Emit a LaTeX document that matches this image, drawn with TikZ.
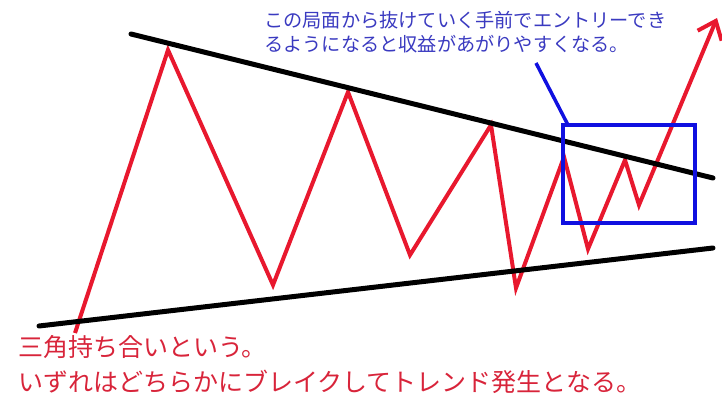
\documentclass[tikz,border=0pt]{standalone}
\usepackage{fontspec}
\newfontfamily\cjk{Noto Sans CJK JP}
\usetikzlibrary{arrows.meta}
\definecolor{pricered}{HTML}{E8182E}
\definecolor{textred}{HTML}{D8243A}
\definecolor{boxblue}{HTML}{1010E0}
\definecolor{textblue}{HTML}{3A3AC0}
\tikzset{
  price/.style={draw=pricered, line width=4pt, line join=miter},
  trendline/.style={draw=black, line width=5pt, line cap=round},
  focusbox/.style={draw=boxblue, line width=4pt},
  leader/.style={draw=boxblue, line width=3.5pt},
  bluetext/.style={anchor=west, inner sep=0pt, text=textblue, font=\cjk\fontsize{19.2pt}{24pt}\selectfont},
  redtext/.style={anchor=west, inner sep=0pt, text=textred, font=\cjk\fontsize{25pt}{35pt}\selectfont},
}
\begin{document}
\begin{tikzpicture}[x=1pt,y=-1pt]
\useasboundingbox (0,0) rectangle (722,398);
% price path
\coordinate (p0) at (75,333);
\coordinate (p1) at (168,50);
\coordinate (p2) at (273,285);
\coordinate (p3) at (348,92);
\coordinate (p4) at (410,255);
\coordinate (p5) at (491,125);
\coordinate (p6) at (516,288);
\coordinate (p7) at (564,157);
\coordinate (p8) at (588,249);
\coordinate (p9) at (625,160);
\coordinate (p10) at (639,205);
\coordinate (p11) at (717,18);
\draw[price, -{Straight Barb[length=16pt,width=26pt,line width=4pt]}]
  (p0) -- (p1) -- (p2) -- (p3) -- (p4) -- (p5) -- (p6) -- (p7) -- (p8) -- (p9) -- (p10) -- (p11);
% trend lines
\coordinate (u0) at (131,34);
\coordinate (u1) at (713,178);
\coordinate (l0) at (39,326);
\coordinate (l1) at (713,248);
\draw[trendline] (u0) -- (u1);
\draw[trendline] (l0) -- (l1);
% focus box
\coordinate (b0) at (563,125);
\coordinate (b1) at (695,223);
\draw[focusbox] (b0) rectangle (b1);
\coordinate (lead) at (536,63);
\coordinate (leadend) at (568,125);
\draw[leader] (lead) -- (leadend);
% texts
\node[bluetext] (n1) at (264,20) {この局面から抜けていく手前でエントリーでき};
\node[bluetext] (n2) at (264,44) {るようになると収益があがりやすくなる。};
\node[redtext] (r1) at (18,347) {三角持ち合いという。};
\node[redtext] (r2) at (18,382) {いずれはどちらかにブレイクしてトレンド発生となる。};
\end{tikzpicture}
\end{document}
